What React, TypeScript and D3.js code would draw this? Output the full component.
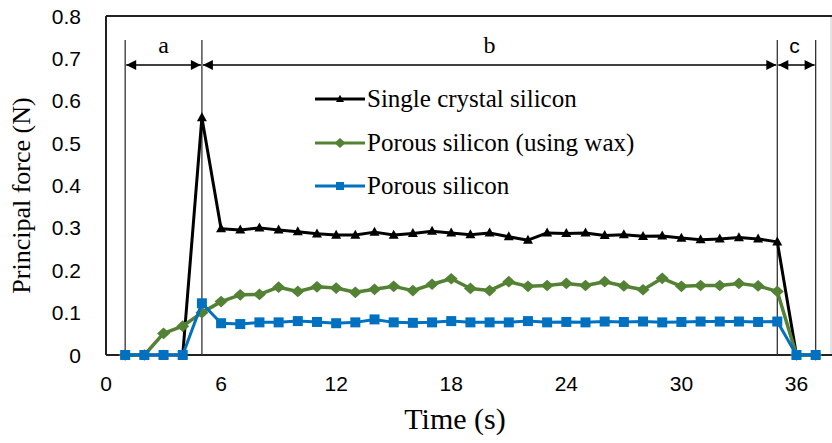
import React from "react";
import * as d3 from "d3";

// Time axis (s) and measured principal force (N) for each specimen
const time = [1, 2, 3, 4, 5, 6, 7, 8, 9, 10, 11, 12, 13, 14, 15, 16, 17, 18, 19, 20, 21, 22, 23, 24, 25, 26, 27, 28, 29, 30, 31, 32, 33, 34, 35, 36, 37];

const singleCrystal = [0, 0, 0, 0, 0.56, 0.298, 0.295, 0.3, 0.295, 0.291, 0.286, 0.283, 0.283, 0.29, 0.283, 0.287, 0.292, 0.288, 0.284, 0.288, 0.279, 0.271, 0.288, 0.287, 0.288, 0.282, 0.284, 0.28, 0.281, 0.276, 0.272, 0.274, 0.277, 0.274, 0.267, 0, 0];

const porousWax = [0, 0, 0.051, 0.068, 0.1, 0.126, 0.142, 0.143, 0.16, 0.15, 0.161, 0.158, 0.148, 0.155, 0.162, 0.152, 0.167, 0.18, 0.157, 0.152, 0.173, 0.162, 0.164, 0.169, 0.164, 0.173, 0.163, 0.154, 0.181, 0.162, 0.164, 0.164, 0.169, 0.163, 0.15, 0, 0];

const porous = [0, 0, 0, 0, 0.122, 0.075, 0.073, 0.077, 0.077, 0.08, 0.078, 0.075, 0.077, 0.084, 0.077, 0.076, 0.077, 0.08, 0.077, 0.077, 0.077, 0.08, 0.077, 0.078, 0.077, 0.079, 0.078, 0.079, 0.077, 0.078, 0.079, 0.079, 0.079, 0.078, 0.079, 0, 0];

const seriesNames = ["Single crystal silicon", "Porous silicon (using wax)", "Porous silicon"];

const xTicks = [0, 6, 12, 18, 24, 30, 36];
const yTicks = [0, 0.1, 0.2, 0.3, 0.4, 0.5, 0.6, 0.7, 0.8];

// Cutting phases: boundaries (s) and their labels
const phaseBounds = [1, 5, 35, 37];
const phaseLabels = ["a", "b", "c"];

const W = 832;
const H = 443;
const plot = { left: 106, right: 831, top: 16, bottom: 355 };

const x = d3.scaleLinear().domain([0, 37.8]).range([plot.left, plot.right]);
const y = d3.scaleLinear().domain([0, 0.8]).range([plot.bottom, plot.top]);

const line = d3
  .line<[number, number]>()
  .x((d) => x(d[0]))
  .y((d) => y(d[1]));

type MarkerKind = "triangle" | "diamond" | "square";

function markerPath(kind: MarkerKind, s: number): string {
  if (kind === "triangle") {
    const h = s * 0.9;
    return `M0,${-h * 0.6}L${s / 2},${h * 0.4}L${-s / 2},${h * 0.4}Z`;
  }
  if (kind === "diamond") {
    const r = s / 2;
    return `M0,${-r * 0.9}L${r},0L0,${r * 0.9}L${-r},0Z`;
  }
  const r = s / 2;
  return `M${-r},${-r}L${r},${-r}L${r},${r}L${-r},${r}Z`;
}

const series = [
  { name: seriesNames[0], values: singleCrystal, color: "#000000", kind: "triangle" as MarkerKind, size: 10, width: 3 },
  { name: seriesNames[1], values: porousWax, color: "#548235", kind: "diamond" as MarkerKind, size: 13, width: 3.5 },
  { name: seriesNames[2], values: porous, color: "#0070C0", kind: "square" as MarkerKind, size: 10, width: 3 },
];

const sans = "'Liberation Sans', Arial, sans-serif";
const serif = "'Liberation Serif', 'Times New Roman', serif";

export default function App() {
  const arrowY = 65;
  const markTop = 40;
  return (
    <svg
      width={W}
      height={H}
      viewBox={`0 0 ${W} ${H}`}
      style={{ position: "absolute", left: 0, top: 0, background: "#fff" }}
    >
      <defs>
        <marker id="ah" viewBox="0 0 10 10" refX="10" refY="5" markerWidth="12" markerHeight="10" markerUnits="userSpaceOnUse" orient="auto-start-reverse">
          <path d="M0,0L10,5L0,10Z" fill="#000" />
        </marker>
      </defs>

      {/* plot frame */}
      <line x1={plot.right} x2={plot.right} y1={plot.top} y2={plot.bottom} stroke="#c8c8c8" strokeWidth={1} />
      <line x1={plot.left} x2={W} y1={plot.top} y2={plot.top} stroke="#222" strokeWidth={2} />
      <line x1={plot.left} x2={plot.left} y1={plot.top} y2={plot.bottom} stroke="#222" strokeWidth={2} />
      <line x1={plot.left} x2={W} y1={plot.bottom} y2={plot.bottom} stroke="#222" strokeWidth={2} />

      {/* y tick labels */}
      {yTicks.map((t) => (
        <text key={t} x={81} y={y(t)} dy="0.36em" textAnchor="end" fontFamily={sans} fontSize={21} fill="#000">
          {t === 0 ? "0" : d3.format(".1f")(t)}
        </text>
      ))}

      {/* x tick labels */}
      {xTicks.map((t) => (
        <text key={t} x={x(t)} y={391} textAnchor="middle" fontFamily={sans} fontSize={21} fill="#000">
          {t}
        </text>
      ))}

      {/* axis titles */}
      <text x={455} y={429} textAnchor="middle" fontFamily={serif} fontSize={30} fill="#000">
        Time (s)
      </text>
      <text transform={`translate(30,${(plot.top + plot.bottom) / 2 + 10}) rotate(-90)`} textAnchor="middle" fontFamily={serif} fontSize={26} fill="#000">
        Principal force (N)
      </text>

      {/* phase boundaries */}
      {phaseBounds.map((b) => (
        <line key={b} x1={x(b)} x2={x(b)} y1={markTop} y2={plot.bottom} stroke="#333" strokeWidth={1.3} />
      ))}
      {phaseLabels.map((lab, i) => {
        const x0 = x(phaseBounds[i]);
        const x1 = x(phaseBounds[i + 1]);
        return (
          <g key={lab}>
            <line x1={x0 + 1} x2={x1 - 1} y1={arrowY} y2={arrowY} stroke="#000" strokeWidth={1.3} markerStart="url(#ah)" markerEnd="url(#ah)" />
            <text x={(x0 + x1) / 2 + (i === 2 ? -2 : 0)} y={53} textAnchor="middle" fontFamily={i === 2 ? sans : serif} fontSize={i === 2 ? 21 : 24} fill="#000">
              {lab}
            </text>
          </g>
        );
      })}

      {/* data series */}
      {series.map((s) => {
        const pts = time.map((t, i) => [t, s.values[i]] as [number, number]);
        return (
          <g key={s.name}>
            <path d={line(pts) || ""} fill="none" stroke={s.color} strokeWidth={s.width} strokeLinejoin="round" />
            {pts.map((p, i) => (
              <path key={i} d={markerPath(s.kind, s.size)} transform={`translate(${x(p[0])},${y(p[1])})`} fill={s.color} />
            ))}
          </g>
        );
      })}

      {/* legend */}
      {series.map((s, i) => {
        const ly = [99, 143, 186][i];
        return (
          <g key={s.name} transform={`translate(315,${ly})`}>
            <line x1={0} x2={50} y1={0} y2={0} stroke={s.color} strokeWidth={3} />
            <path d={markerPath(s.kind, s.size - 2)} transform="translate(25,0)" fill={s.color} />
            <text x={52} y={0} dy="0.33em" fontFamily={serif} fontSize={25} fill="#000">
              {s.name}
            </text>
          </g>
        );
      })}
    </svg>
  );
}
